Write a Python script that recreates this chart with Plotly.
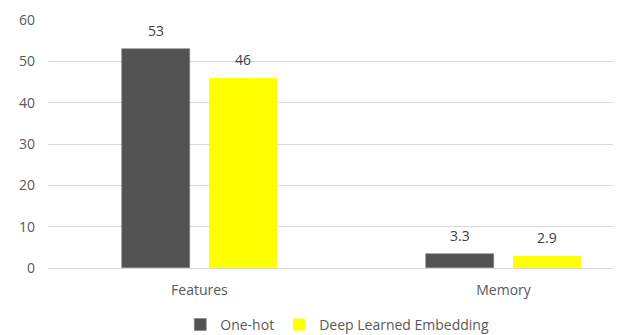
import plotly.graph_objects as go

categories = ["Features", "Memory"]
one_hot = [53, 3.3]
deep_embedding = [46, 2.9]
one_hot_labels = ["53", "3.3"]
deep_labels = ["46", "2.9"]
y_ticks = [0, 10, 20, 30, 40, 50, 60]

FONT = "Open Sans, Liberation Sans, Arial"
TXT = "#595959"
DARK = "#525252"
YELLOW = "#FFFF00"

xpos = list(range(len(categories)))
bar_w = 0.224
shift = 0.143

fig = go.Figure()
fig.add_trace(go.Bar(
    x=xpos, y=one_hot, name="One-hot",
    marker=dict(color=DARK, line=dict(color="#7f7f7f", width=0.6)),
    width=bar_w, offset=-shift - bar_w / 2,
))
fig.add_trace(go.Bar(
    x=xpos, y=deep_embedding, name="Deep Learned Embedding",
    marker=dict(color=YELLOW, line=dict(width=0)),
    width=bar_w, offset=shift - bar_w / 2,
))

# value labels sitting a little above each bar
for i in xpos:
    for val, lab, dx in ((one_hot[i], one_hot_labels[i], -shift),
                         (deep_embedding[i], deep_labels[i], shift)):
        fig.add_annotation(x=i + dx, y=val, text=lab, showarrow=False,
                           yanchor="bottom", yshift=7,
                           font=dict(family=FONT, size=14, color="#404040"))

fig.update_layout(
    width=622, height=335,
    margin=dict(l=48, r=9, t=20, b=67, autoexpand=False),
    paper_bgcolor="white", plot_bgcolor="white",
    font=dict(family=FONT, size=14, color=TXT),
    showlegend=True,
    legend=dict(orientation="h", x=0.512, xanchor="center",
                yref="container", y=0.03, yanchor="middle",
                font=dict(family=FONT, size=14, color=TXT),
                itemwidth=30, tracegroupgap=0),
    bargap=0,
)
fig.update_xaxes(
    tickmode="array", tickvals=xpos, ticktext=categories,
    range=[-0.498, 1.36], showgrid=False, zeroline=False, showline=False,
    ticks="", ticklabelstandoff=12,
    tickfont=dict(family=FONT, size=14, color=TXT),
)
fig.update_yaxes(
    range=[0, 60], tickvals=y_ticks, showgrid=True, gridcolor="#d9d9d9",
    gridwidth=1, zeroline=True, zerolinecolor="#d9d9d9", zerolinewidth=1,
    showline=False, ticks="", ticklabelstandoff=12,
    tickfont=dict(family=FONT, size=14, color=TXT),
)

fig.write_html("out.html")
